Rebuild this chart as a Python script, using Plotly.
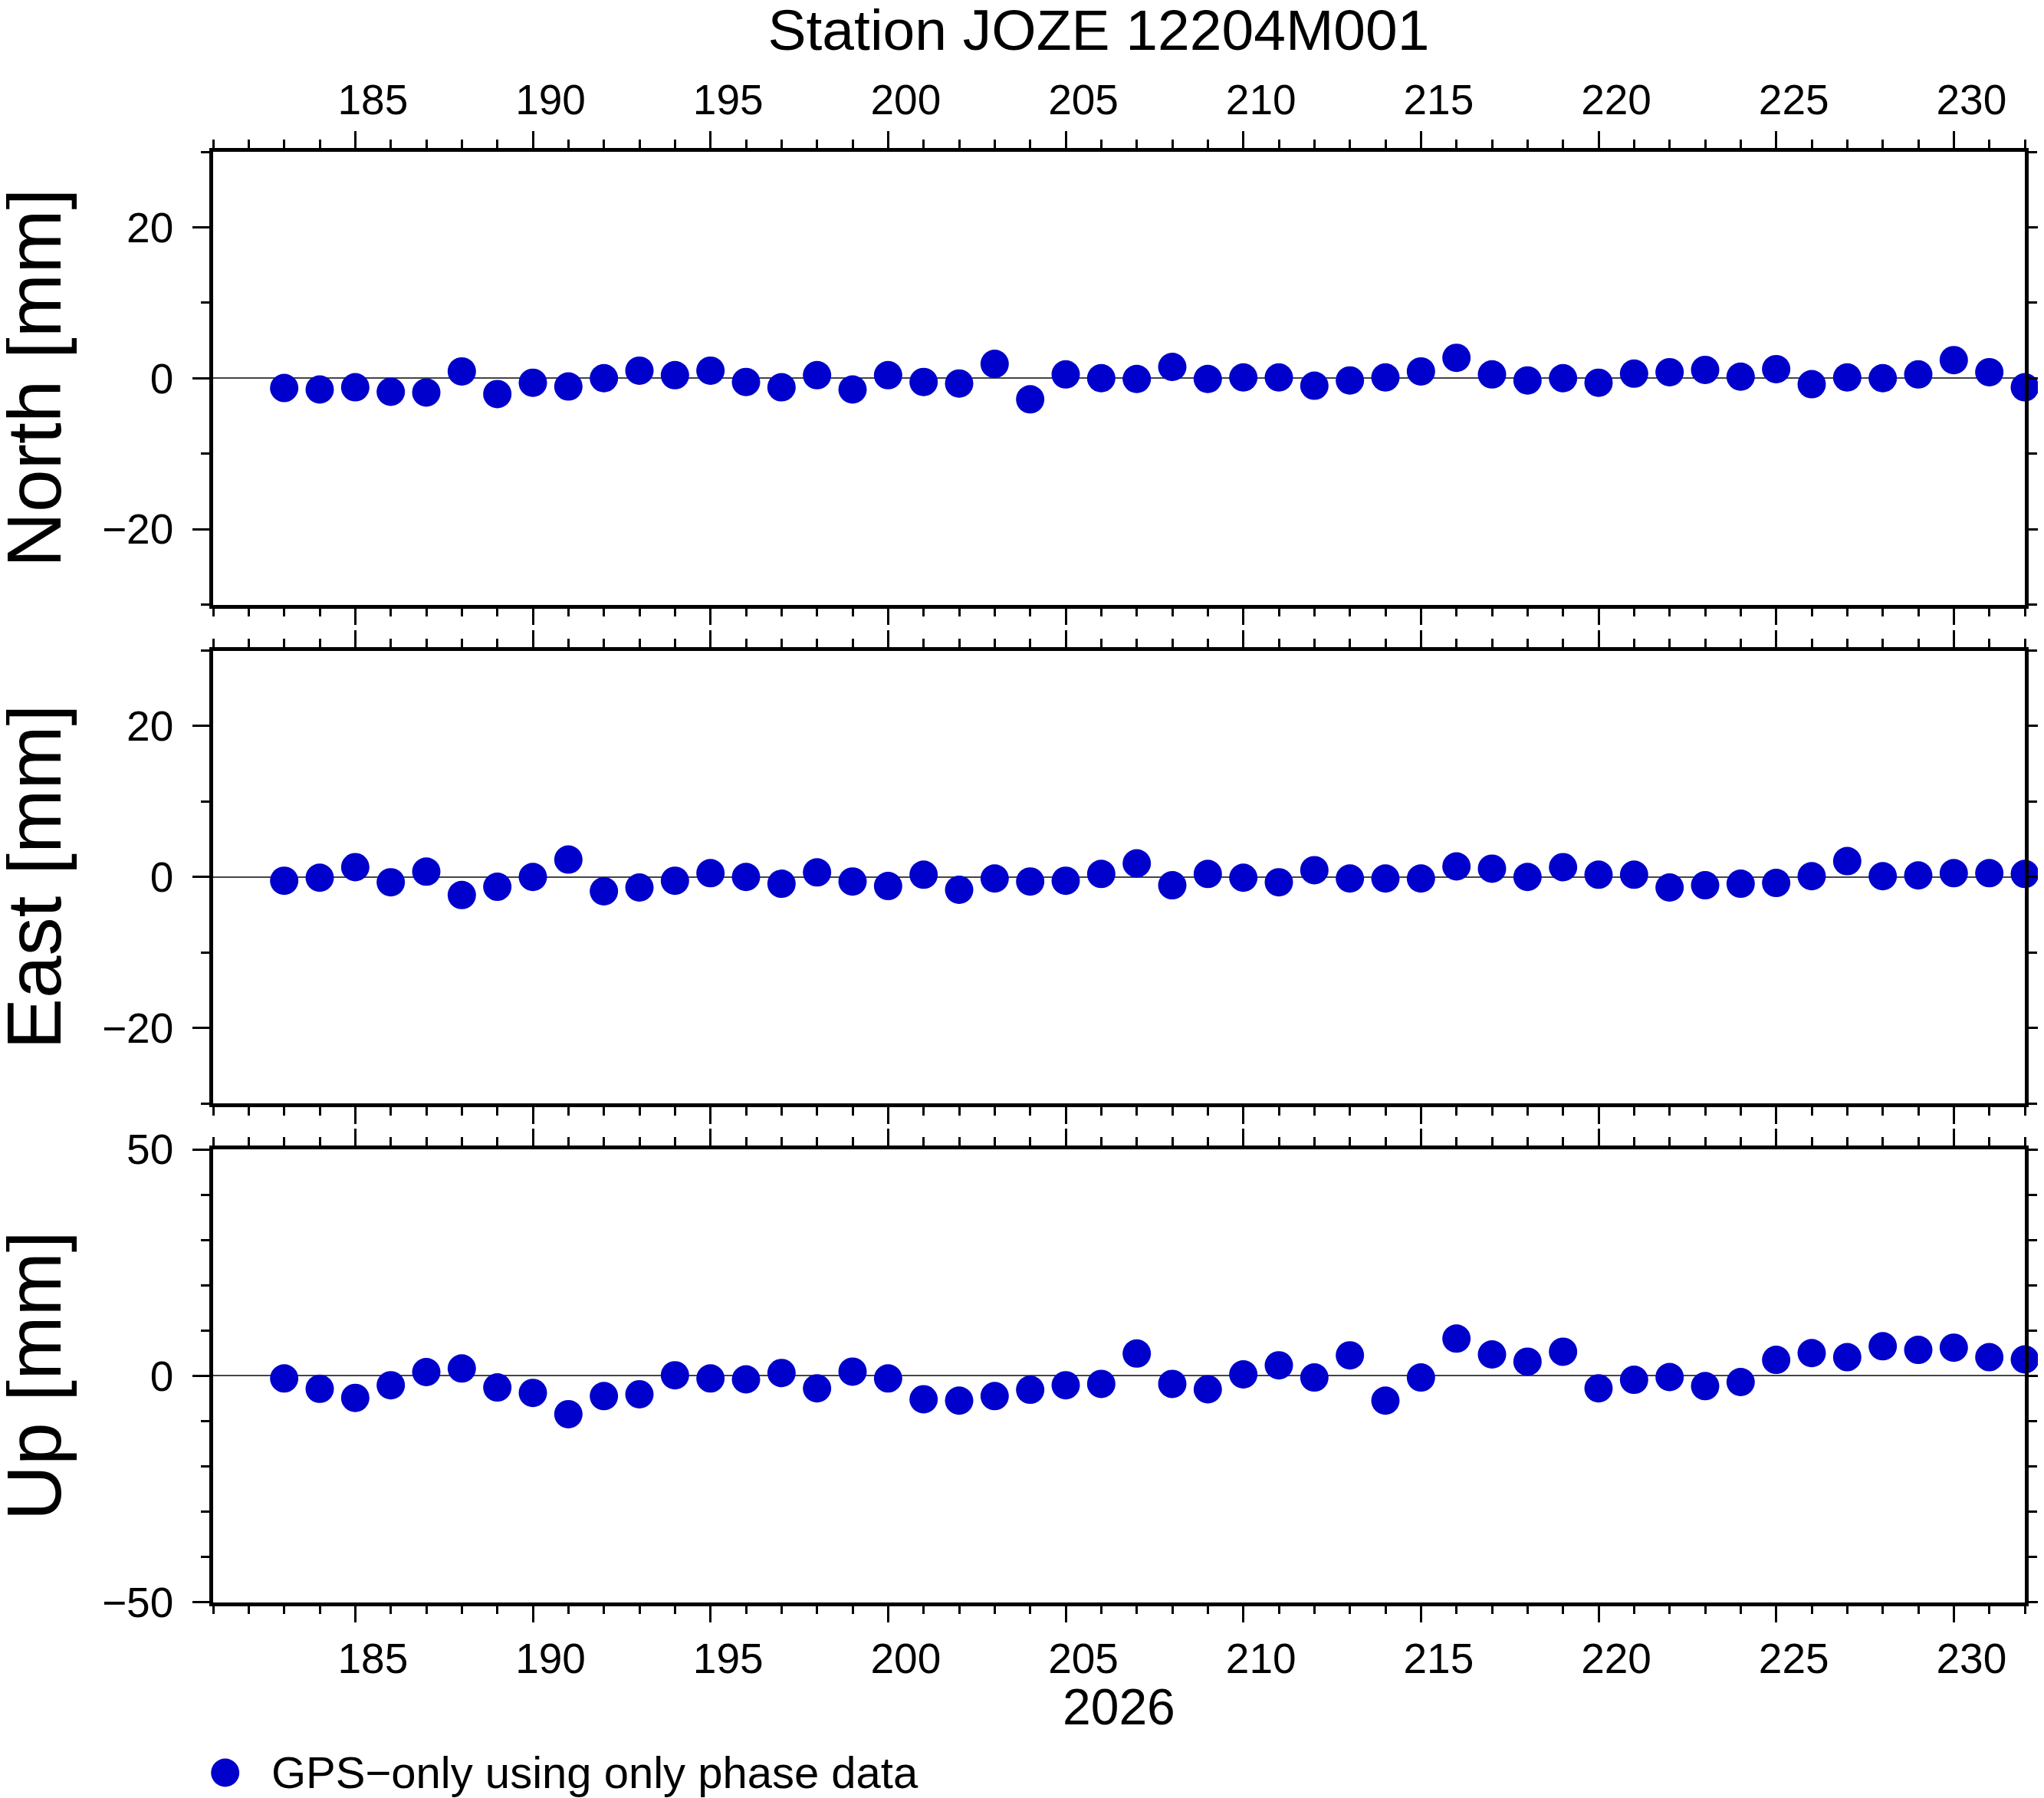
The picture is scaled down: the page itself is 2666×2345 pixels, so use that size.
import plotly.graph_objects as go

# daily solutions, day of year 2026
days = list(range(183, 233))

north = [-1.3, -1.5, -1.2, -1.8, -1.9, 0.9, -2.1, -0.6, -1.1, 0.0,
         1.0, 0.4, 1.0, -0.5, -1.2, 0.4, -1.5, 0.4, -0.5, -0.7,
         1.9, -2.8, 0.5, 0.0, -0.1, 1.5, -0.1, 0.1, 0.1, -1.0,
         -0.3, 0.1, 0.9, 2.7, 0.5, -0.3, 0.0, -0.6, 0.6, 0.8,
         1.1, 0.2, 1.2, -0.8, 0.1, 0.0, 0.5, 2.4, 0.8, -1.2]

east = [-0.5, -0.1, 1.3, -0.7, 0.7, -2.4, -1.3, 0.0, 2.3, -1.9,
        -1.4, -0.5, 0.5, 0.0, -0.9, 0.6, -0.6, -1.2, 0.3, -1.7,
        -0.2, -0.6, -0.5, 0.4, 1.8, -1.1, 0.4, -0.1, -0.7, 0.9,
        -0.2, -0.2, -0.2, 1.4, 1.1, 0.0, 1.3, 0.3, 0.3, -1.4,
        -1.1, -0.9, -0.8, 0.1, 2.1, 0.1, 0.2, 0.5, 0.5, 0.4]

up = [-0.6, -2.9, -4.9, -2.1, 0.8, 1.6, -2.6, -3.8, -8.5, -4.5,
      -4.1, 0.1, -0.6, -0.8, 0.6, -2.8, 0.9, -0.6, -5.2, -5.5,
      -4.5, -3.1, -2.1, -1.8, 4.9, -1.8, -3.0, 0.3, 2.3, -0.4,
      4.5, -5.5, -0.4, 8.2, 4.7, 3.1, 5.3, -2.8, -0.9, -0.3,
      -2.3, -1.4, 3.5, 5.0, 4.1, 6.5, 5.7, 6.2, 4.1, 3.6]

panel_names = ['North [mm]', 'East [mm]', 'Up [mm]']
panel_ranges = [[-30, 30], [-30, 30], [-50, 50]]
panel_dticks = [20, 20, 50]
series_name = 'GPS\u2212only using only phase data'
title = 'Station JOZE 12204M001'
year_label = '2026'

W, H = 2666, 2345
OFF = 8  # page body margin in the browser
FONT = 'Liberation Sans'
BLUE = 'rgb(0,0,204)'

# screen pixel layout of the three panels
x0, x1 = 278, 2641
panel_top = [198, 848.5, 1499]
panel_h = 590.5


def px(p):
    return (p - OFF) / W


def py(p):
    return 1 - (p - OFF) / H


fig = go.Figure()

series = [north, east, up]
for i, vals in enumerate(series):
    n = '' if i == 0 else str(i + 1)
    fig.add_trace(go.Scatter(x=days, y=vals, mode='markers', name=series_name,
                             marker=dict(size=37, color=BLUE),
                             cliponaxis=False, showlegend=False,
                             xaxis='x' + n, yaxis='y' + n))

# legend key drawn in a small helper axis
fig.add_trace(go.Scatter(x=[0.5], y=[0.5], mode='markers', marker=dict(size=37, color=BLUE),
                         cliponaxis=False, showlegend=False, hoverinfo='skip',
                         xaxis='x4', yaxis='y4'))

xbase = dict(range=[181, 232], tick0=0, dtick=5, ticks='outside', ticklen=22, tickwidth=3,
             tickcolor='black', showline=True, linewidth=4.5, linecolor='black',
             mirror='allticks', showgrid=False, zeroline=False, automargin=False,
             minor=dict(tick0=0, dtick=1, ticks='outside', ticklen=11, tickwidth=3,
                        tickcolor='black', showgrid=False),
             tickfont=dict(family=FONT, size=55, color='black'), ticklabelshift=23,
             domain=[px(x0), px(x1)])

layout = dict(width=W, height=H, margin=dict(l=0, r=0, t=0, b=0, autoexpand=False),
              paper_bgcolor='white', plot_bgcolor='white', showlegend=False,
              font=dict(family=FONT, color='black'),
              title=dict(text=title, x=px(1433), xanchor='center', xref='paper',
                         y=py(39), yref='container', yanchor='middle',
                         font=dict(family=FONT, size=75, color='black')))

annotations = []
for i in range(3):
    n = '' if i == 0 else str(i + 1)
    xa = dict(xbase, anchor='y' + n)
    if i == 0:
        xa.update(side='top', showticklabels=True)
    elif i == 1:
        xa.update(showticklabels=False, matches='x')
    else:
        xa.update(side='bottom', showticklabels=True, matches='x')
    top = panel_top[i]
    ya = dict(range=panel_ranges[i], tick0=0, dtick=panel_dticks[i], ticks='outside',
              ticklen=22, tickwidth=3, tickcolor='black', showline=True, linewidth=4.5,
              linecolor='black', mirror='allticks', showgrid=False, automargin=False,
              zeroline=True, zerolinecolor='#444', zerolinewidth=1.5,
              minor=dict(tick0=0, dtick=10, ticks='outside', ticklen=11, tickwidth=3,
                         tickcolor='black', showgrid=False),
              tickfont=dict(family=FONT, size=55, color='black'), ticklabelstandoff=14,
              domain=[py(top + panel_h), py(top)], anchor='x' + n)
    layout['xaxis' + n] = xa
    layout['yaxis' + n] = ya
    annotations.append(dict(text=panel_names[i], xref='paper', yref='paper',
                            x=px(44), y=py(top + panel_h / 2), xanchor='center',
                            yanchor='middle', textangle=-90, showarrow=False,
                            font=dict(family=FONT, size=100, color='black')))

annotations.append(dict(text=year_label, xref='paper', yref='paper', x=px((x0 + x1) / 2),
                        y=py(2226), xanchor='center', yanchor='middle', showarrow=False,
                        font=dict(family=FONT, size=66, color='black')))
annotations.append(dict(text=series_name, xref='paper', yref='paper', x=px(352),
                        y=py(2311), xanchor='left', yanchor='middle', showarrow=False,
                        font=dict(family=FONT, size=58, color='black')))

layout['xaxis4'] = dict(domain=[px(283.7), px(303.7)], range=[0, 1], visible=False,
                        anchor='y4', fixedrange=True, automargin=False)
layout['yaxis4'] = dict(domain=[py(2322), py(2302)], range=[0, 1], visible=False,
                        anchor='x4', fixedrange=True, automargin=False)
layout['annotations'] = annotations

fig.update_layout(**layout)
fig.write_html("out.html")
